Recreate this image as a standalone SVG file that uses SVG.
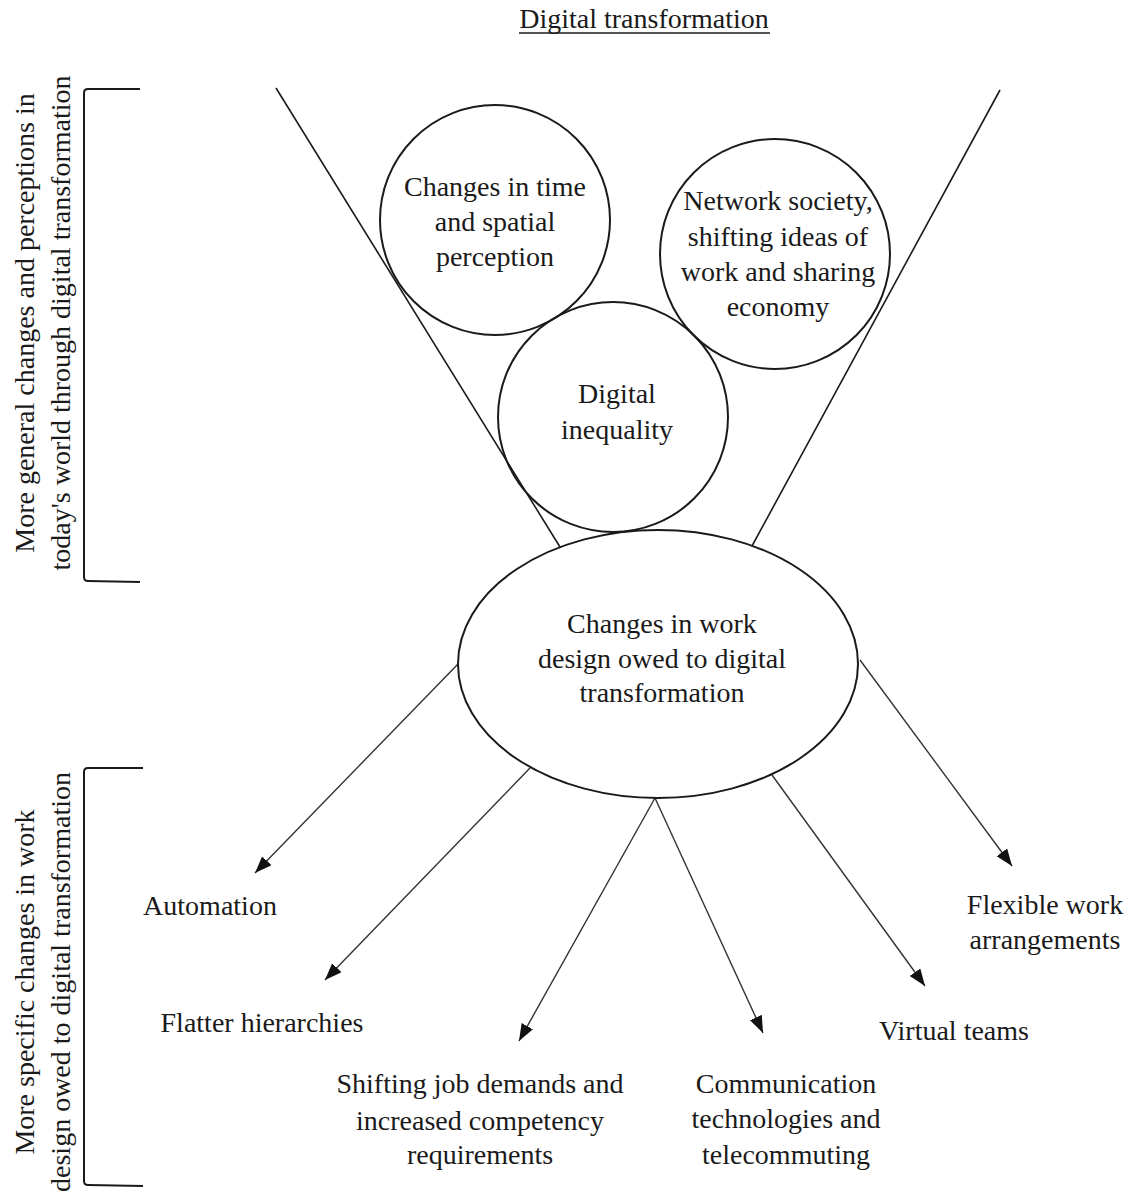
<svg xmlns="http://www.w3.org/2000/svg" width="1133" height="1192" viewBox="0 0 1133 1192">
  <style>
    text { font-family: "Liberation Serif", "Times New Roman", serif; font-size: 28px; fill: #1a1a1a; }
    .mid { text-anchor: middle; }
    .shape { fill: none; stroke: #1a1a1a; stroke-width: 2; }
    .line { fill: none; stroke: #1a1a1a; stroke-width: 1.6; }
    .arrow { fill: none; stroke: #333; stroke-width: 1.4; marker-end: url(#head); }
  </style>
  <defs>
    <marker id="head" markerUnits="userSpaceOnUse" markerWidth="18" markerHeight="14" refX="17" refY="6.5" orient="auto">
      <path d="M0,0 L17,6.5 L0,13 z" fill="#111"/>
    </marker>
  </defs>
  <rect width="1133" height="1192" fill="#fff"/>

  <!-- title -->
  <g id="title">
    <text x="644" y="28" class="mid">Digital transformation</text>
    <line x1="519" y1="33" x2="770" y2="33" stroke="#1a1a1a" stroke-width="1.5"/>
  </g>

  <!-- side brackets with rotated captions -->
  <g id="bracket-general">
    <path class="shape" d="M140,89 L88,89 Q84,89 84,93 L84,577 Q84,581 88,581 L140,582"/>
    <text class="mid" transform="translate(34,323) rotate(-90)">More general changes and perceptions in</text>
    <text class="mid" transform="translate(70,323) rotate(-90)">today's world through digital transformation</text>
  </g>
  <g id="bracket-specific">
    <path class="shape" d="M143,768 L88,768 Q84,768 84,772 L84,1181 Q84,1185 88,1185 L143,1186"/>
    <text class="mid" transform="translate(34,982) rotate(-90)">More specific changes in work</text>
    <text class="mid" transform="translate(70,982) rotate(-90)">design owed to digital transformation</text>
  </g>

  <!-- funnel and arrows -->
  <g id="connectors">
    <line class="line" x1="276" y1="88" x2="560" y2="547"/>
    <line class="line" x1="1000" y1="90" x2="752" y2="546"/>
    <line class="arrow" x1="458" y1="664" x2="255" y2="873"/>
    <line class="arrow" x1="530" y1="768" x2="325" y2="980"/>
    <line class="arrow" x1="655" y1="798" x2="519" y2="1041"/>
    <line class="arrow" x1="655" y1="798" x2="763" y2="1033"/>
    <line class="arrow" x1="772" y1="775" x2="925" y2="986"/>
    <line class="arrow" x1="860" y1="660" x2="1012" y2="866"/>
  </g>

  <g id="time-space">
    <circle class="shape" cx="495" cy="220" r="115"/>
    <text x="495" y="196" class="mid">Changes in time</text>
    <text x="495" y="231" class="mid">and spatial</text>
    <text x="495" y="266" class="mid">perception</text>
  </g>

  <g id="network-society">
    <circle class="shape" cx="775" cy="254" r="115"/>
    <text x="778" y="210" class="mid">Network society,</text>
    <text x="778" y="246" class="mid">shifting ideas of</text>
    <text x="778" y="281" class="mid">work and sharing</text>
    <text x="778" y="316" class="mid">economy</text>
  </g>

  <g id="digital-inequality">
    <circle class="shape" cx="613" cy="417" r="115"/>
    <text x="617" y="403" class="mid">Digital</text>
    <text x="617" y="439" class="mid">inequality</text>
  </g>

  <g id="work-design">
    <ellipse class="shape" cx="658" cy="664" rx="200" ry="134"/>
    <text x="662" y="633" class="mid">Changes in work</text>
    <text x="662" y="668" class="mid">design owed to digital</text>
    <text x="662" y="702" class="mid">transformation</text>
  </g>

  <g id="automation">
    <text x="210" y="915" class="mid">Automation</text>
  </g>
  <g id="flatter-hierarchies">
    <text x="262" y="1032" class="mid">Flatter hierarchies</text>
  </g>
  <g id="job-demands">
    <text x="480" y="1093" class="mid">Shifting job demands and</text>
    <text x="480" y="1130" class="mid">increased competency</text>
    <text x="480" y="1164" class="mid">requirements</text>
  </g>
  <g id="communication">
    <text x="786" y="1093" class="mid">Communication</text>
    <text x="786" y="1128" class="mid">technologies and</text>
    <text x="786" y="1164" class="mid">telecommuting</text>
  </g>
  <g id="virtual-teams">
    <text x="954" y="1040" class="mid">Virtual teams</text>
  </g>
  <g id="flexible-work">
    <text x="1045" y="914" class="mid">Flexible work</text>
    <text x="1045" y="949" class="mid">arrangements</text>
  </g>
</svg>
